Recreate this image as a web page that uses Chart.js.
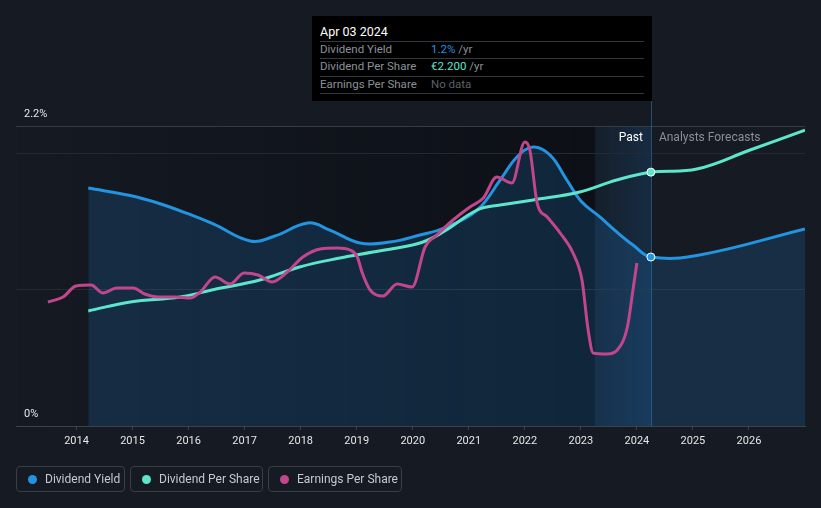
<!DOCTYPE html>
<html>
<head>
<meta charset="utf-8">
<script src="https://cdn.jsdelivr.net/npm/chart.js@4.4.1/dist/chart.umd.min.js"></script>
<style>
  html, body { margin:0; padding:0; background:#151a23; }
  body { width:821px; height:508px; position:relative; overflow:hidden; font-family: Roboto, "Noto Sans", sans-serif; }
  #wrap { position:absolute; left:0; top:0; width:821px; height:508px; }
  .tip { position:absolute; left:312px; top:16px; width:340px; height:85px; background:#000; box-sizing:border-box; }
  .tip .t { position:absolute; left:8px; top:8px; color:#fff; font-size:12.5px; }
  .tip .sep { position:absolute; left:8px; width:324px; height:1px; background:#33383f; }
  .tip .row { position:absolute; left:8px; font-size:11.5px; color:#8b9098; white-space:nowrap; }
  .tip .val { position:absolute; left:111px; top:0; }
  .legend { position:absolute; top:466px; height:26px; border:1px solid #393e47; border-radius:4px; box-sizing:border-box; color:#c6c9ce; font-size:12px; line-height:24px; white-space:nowrap; }
  .legend .dot { position:absolute; left:11px; top:8px; width:9px; height:9px; border-radius:50%; }
  .legend .lt { position:absolute; left:28px; top:0; }
</style>
</head>
<body>
<div id="wrap"><canvas id="c" width="821" height="508"></canvas></div>

<div class="tip">
  <div class="t" id="tipTitle"></div>
  <div class="sep" style="top:25px"></div>
  <div class="row" style="top:26px">Dividend Yield<span class="val"><span id="tipDY" style="color:#2394e0"></span> /yr</span></div>
  <div class="sep" style="top:42px"></div>
  <div class="row" style="top:43px">Dividend Per Share<span class="val"><span id="tipDPS" style="color:#5ee6cc"></span> /yr</span></div>
  <div class="sep" style="top:60px"></div>
  <div class="row" style="top:61px">Earnings Per Share<span class="val" style="color:#5b6068">No data</span></div>
  <div class="sep" style="top:77px"></div>
</div>

<div class="legend" style="left:16px;width:109px"><span class="dot" style="background:#2394e0"></span><span class="lt">Dividend Yield</span></div>
<div class="legend" style="left:130px;width:133px"><span class="dot" style="background:#5ee6cc"></span><span class="lt">Dividend Per Share</span></div>
<div class="legend" style="left:268px;width:134px"><span class="dot" style="background:#c2468c"></span><span class="lt">Earnings Per Share</span></div>

<script>
// ---- data ----
const yearTicks = [2014, 2015, 2016, 2017, 2018, 2019, 2020, 2021, 2022, 2023, 2024, 2025, 2026];
const yieldTicks = [0, 1, 2, 2.2];
const yieldTickLabels = ['0%', '', '', '2.2%'];
const xMin = 2012.92, xMax = 2027.0;
const pastStart = 2023.25;
const nowYear = 2024.25;
const tooltipTitle = 'Apr 03 2024';

const dyYears = [2014.21, 2014.96, 2015.49, 2016.00, 2016.45, 2017.10, 2017.54, 2018.13, 2018.52, 2019.06, 2019.59, 2020.13, 2020.56, 2021.15, 2021.56, 2021.86, 2022.15, 2022.45, 2022.75, 2023.00, 2023.34, 2023.64, 2023.93, 2024.25, 2025.12, 2027.0];
const dyValues = [1.745, 1.69, 1.63, 1.555, 1.48, 1.357, 1.393, 1.489, 1.437, 1.342, 1.349, 1.401, 1.452, 1.584, 1.804, 1.973, 2.046, 1.987, 1.804, 1.65, 1.533, 1.423, 1.327, 1.239, 1.254, 1.445];

const dpsYears = [2014.21, 2014.96, 2015.85, 2016.49, 2017.27, 2017.98, 2018.70, 2019.29, 2020.13, 2020.54, 2021.15, 2021.56, 2022.15, 2022.98, 2023.64, 2024.25, 2025.07, 2026.02, 2027.0];
const dpsValues = [0.997, 1.075, 1.118, 1.187, 1.265, 1.378, 1.456, 1.508, 1.586, 1.681, 1.872, 1.915, 1.959, 2.028, 2.132, 2.200, 2.227, 2.392, 2.565];

const epsYears = [2013.49, 2013.76, 2013.99, 2014.26, 2014.47, 2014.72, 2015.01, 2015.22, 2015.46, 2015.76, 2016.03, 2016.21, 2016.47, 2016.74, 2016.99, 2017.24, 2017.49, 2017.76, 2018.04, 2018.35, 2018.65, 2018.88, 2019.01, 2019.10, 2019.24, 2019.47, 2019.72, 2019.99, 2020.22, 2020.43, 2020.72, 2021.02, 2021.26, 2021.50, 2021.77, 2022.00, 2022.09, 2022.22, 2022.40, 2022.63, 2022.86, 2023.02, 2023.13, 2023.22, 2023.47, 2023.65, 2023.83, 2023.93, 2024.00];
const epsValues = [2.48, 2.58, 2.80, 2.82, 2.66, 2.76, 2.76, 2.64, 2.58, 2.58, 2.56, 2.68, 2.98, 2.84, 3.06, 3.02, 2.88, 3.08, 3.38, 3.54, 3.56, 3.52, 3.38, 3.06, 2.72, 2.60, 2.84, 2.78, 3.58, 3.82, 4.12, 4.38, 4.56, 4.98, 4.86, 5.68, 5.52, 4.46, 4.18, 3.86, 3.46, 2.92, 1.92, 1.46, 1.44, 1.52, 1.98, 2.72, 3.26];

// ---- tooltip text from data ----
const nowIdxDY = dyYears.indexOf(nowYear);
const nowIdxDPS = dpsYears.indexOf(nowYear);
document.getElementById('tipTitle').textContent = tooltipTitle;
document.getElementById('tipDY').textContent = dyValues[nowIdxDY].toFixed(1) + '%';
document.getElementById('tipDPS').textContent = '€' + dpsValues[nowIdxDPS].toFixed(3);

const pts = (xs, ys) => xs.map((x, i) => ({x: x, y: ys[i]}));

const BLUE = '#2394e0', TEAL = '#5ee6cc', MAG = '#c2468c';

const bgPlugin = {
  id: 'bg',
  beforeDraw(chart) {
    const {ctx, chartArea: a, scales: {x}} = chart;
    const xs = x.getPixelForValue(pastStart);
    const xn = x.getPixelForValue(nowYear);
    ctx.save();
    let g = ctx.createLinearGradient(a.left, 0, xs, 0);
    g.addColorStop(0, 'rgba(6,8,12,0)');
    g.addColorStop(1, 'rgba(6,8,12,0.55)');
    ctx.fillStyle = g;
    ctx.fillRect(a.left, a.top, xs - a.left, a.bottom - a.top);
    g = ctx.createLinearGradient(xs, 0, xn, 0);
    g.addColorStop(0, 'rgba(30,110,180,0.06)');
    g.addColorStop(1, 'rgba(30,110,180,0.22)');
    ctx.fillStyle = g;
    ctx.fillRect(xs, a.top, xn - xs, a.bottom - a.top);
    ctx.restore();
  },
  beforeDatasetsDraw(chart) {
    const {ctx, chartArea: a, scales: {x}} = chart;
    const xn = x.getPixelForValue(nowYear);
    ctx.save();
    ctx.strokeStyle = 'rgba(60,120,170,0.55)';
    ctx.lineWidth = 1;
    ctx.beginPath();
    ctx.moveTo(Math.round(xn) + 0.5, 101);
    ctx.lineTo(Math.round(xn) + 0.5, a.bottom);
    ctx.stroke();
    ctx.font = '12px Roboto, sans-serif';
    ctx.textBaseline = 'middle';
    ctx.textAlign = 'right';
    ctx.fillStyle = '#ffffff';
    ctx.fillText('Past', xn - 8, a.top + 12);
    ctx.textAlign = 'left';
    ctx.fillStyle = '#8a8f97';
    ctx.fillText('Analysts Forecasts', xn + 8, a.top + 12);
    ctx.restore();
  }
};

const dotRadius = ctx => (ctx.raw && ctx.raw.x === nowYear) ? 4 : 0;

new Chart(document.getElementById('c'), {
  type: 'line',
  data: {
    datasets: [
      {
        label: 'Dividend Yield', data: pts(dyYears, dyValues), yAxisID: 'y',
        borderColor: BLUE, borderWidth: 3, fill: 'origin', backgroundColor: 'rgba(33,120,190,0.22)',
        tension: 0.4, pointRadius: dotRadius, pointBackgroundColor: BLUE,
        pointBorderColor: '#ffffff', pointBorderWidth: 1, pointHoverRadius: 0, order: 2
      },
      {
        label: 'Dividend Per Share', data: pts(dpsYears, dpsValues), yAxisID: 'y2',
        borderColor: TEAL, borderWidth: 3, fill: false,
        tension: 0.4, pointRadius: dotRadius, pointBackgroundColor: TEAL,
        pointBorderColor: '#ffffff', pointBorderWidth: 1, pointHoverRadius: 0, order: 1
      },
      {
        label: 'Earnings Per Share', data: pts(epsYears, epsValues), yAxisID: 'y3',
        borderColor: MAG, borderWidth: 3, fill: false,
        cubicInterpolationMode: 'monotone', pointRadius: 0, pointHoverRadius: 0, order: 0
      }
    ]
  },
  options: {
    responsive: false, animation: false, events: [],
    layout: { padding: { left: 16, right: 16, top: 126, bottom: 0 } },
    plugins: { legend: { display: false }, tooltip: { enabled: false } },
    scales: {
      x: {
        type: 'linear', min: xMin, max: xMax,
        afterBuildTicks: s => { s.ticks = yearTicks.map(v => ({value: v})); },
        afterFit: s => { s.height = 82; },
        grid: { display: true, drawOnChartArea: false, drawTicks: true, tickLength: 4, color: '#3c424a' },
        border: { display: true, color: '#3c424a', width: 1 },
        ticks: { color: '#e6e6e6', font: { family: 'Roboto', size: 11 }, padding: 5, maxRotation: 0, autoSkip: false,
                 callback: v => String(v) }
      },
      y: {
        position: 'left', min: 0, max: 2.2,
        afterBuildTicks: s => { s.ticks = yieldTicks.map(v => ({value: v})); },
        afterFit: s => { s.width = 0; },
        grid: { drawTicks: false, color: c => {
          const v = c.tick ? c.tick.value : null;
          if (v === 2.2) return '#363b44';
          if (v === 0) return '#3c424a';
          return '#252a32';
        } },
        border: { display: false },
        ticks: { mirror: true, padding: 8, labelOffset: -12, color: '#e6e6e6', font: { family: 'Roboto', size: 11 },
                 callback: (v, i) => yieldTickLabels[yieldTicks.indexOf(v)] }
      },
      y2: { display: false, min: 0, max: 2.6 },
      y3: { display: false, min: 0, max: 6 }
    }
  },
  plugins: [bgPlugin]
});
</script>
</body>
</html>
